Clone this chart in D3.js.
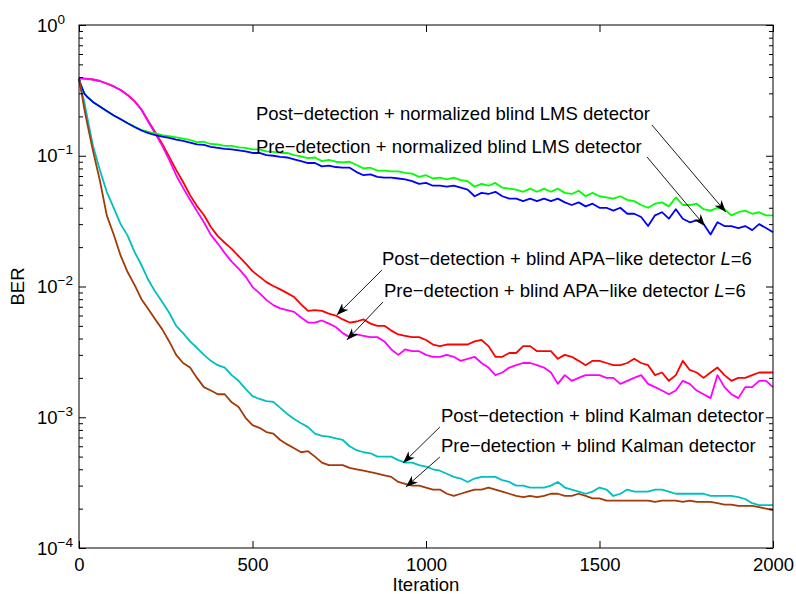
<!DOCTYPE html>
<html>
<head>
<meta charset="utf-8">
<script src="https://cdn.jsdelivr.net/npm/d3@7"></script>
<style>
  body { margin: 0; background: #fff; }
  svg text { font-family: "Liberation Sans", Arial, Helvetica, sans-serif; fill: #000; }
</style>
</head>
<body>
<div id="chart"></div>
<script>
const iterations = [
  0, 5, 15, 25, 40,
  60, 80, 100, 120, 140, 160, 180, 200, 220, 240,
  260, 280, 300, 320, 340, 360, 380, 400, 420, 440,
  460, 480, 500, 520, 540, 560, 580, 600, 620, 640,
  660, 680, 700, 720, 740, 760, 780, 800, 820, 840,
  860, 880, 900, 920, 940, 960, 980, 1000, 1020, 1040,
  1060, 1080, 1100, 1120, 1140, 1160, 1180, 1200, 1220, 1240,
  1260, 1280, 1300, 1320, 1340, 1360, 1380, 1400, 1420, 1440,
  1460, 1480, 1500, 1520, 1540, 1560, 1580, 1600, 1620, 1640,
  1660, 1680, 1700, 1720, 1740, 1760, 1780, 1800, 1820, 1840,
  1860, 1880, 1900, 1920, 1940, 1960, 1980, 2000
];

// BER curves
const postLms = [
  0.39, 0.35, 0.30, 0.28, 0.258,
  0.238, 0.22, 0.204, 0.191, 0.178, 0.167, 0.158, 0.152, 0.148, 0.144,
  0.141, 0.138, 0.135, 0.132, 0.127, 0.128, 0.123, 0.122, 0.119, 0.119,
  0.116, 0.115, 0.112, 0.112, 0.108, 0.107, 0.105, 0.105, 0.101, 0.099,
  0.096, 0.097, 0.091, 0.093, 0.090, 0.089, 0.090, 0.085, 0.080, 0.081,
  0.077, 0.077, 0.076, 0.076, 0.074, 0.073, 0.069, 0.071, 0.067, 0.068,
  0.066, 0.068, 0.065, 0.064, 0.058, 0.061, 0.059, 0.062, 0.057, 0.056,
  0.055, 0.053, 0.056, 0.053, 0.056, 0.053, 0.056, 0.052, 0.051, 0.054,
  0.049, 0.052, 0.049, 0.048, 0.047, 0.049, 0.046, 0.045, 0.042, 0.040,
  0.043, 0.044, 0.041, 0.048, 0.042, 0.042, 0.043, 0.039, 0.038, 0.040,
  0.039, 0.035, 0.037, 0.038, 0.036, 0.037, 0.035, 0.035
];
const preLms = [
  0.39, 0.35, 0.30, 0.28, 0.258,
  0.238, 0.22, 0.203, 0.19, 0.177, 0.166, 0.156, 0.149, 0.144, 0.140,
  0.137, 0.133, 0.130, 0.126, 0.122, 0.121, 0.117, 0.115, 0.113, 0.112,
  0.110, 0.108, 0.105, 0.105, 0.101, 0.100, 0.098, 0.097, 0.094, 0.091,
  0.088, 0.088, 0.083, 0.084, 0.082, 0.081, 0.081, 0.075, 0.071, 0.072,
  0.069, 0.068, 0.068, 0.067, 0.066, 0.064, 0.061, 0.062, 0.059, 0.059,
  0.058, 0.059, 0.057, 0.055, 0.049, 0.052, 0.051, 0.053, 0.049, 0.047,
  0.047, 0.045, 0.047, 0.045, 0.047, 0.045, 0.047, 0.044, 0.042, 0.044,
  0.041, 0.043, 0.040, 0.040, 0.038, 0.040, 0.036, 0.036, 0.034, 0.029,
  0.035, 0.037, 0.033, 0.039, 0.033, 0.031, 0.032, 0.030, 0.025, 0.031,
  0.029, 0.029, 0.028, 0.029, 0.027, 0.030, 0.028, 0.026
];
const postApa = [
  0.39, 0.39, 0.389, 0.387, 0.383,
  0.373, 0.357, 0.339, 0.318, 0.292, 0.262, 0.226, 0.184, 0.151, 0.123,
  0.098, 0.078, 0.063, 0.050, 0.0412, 0.0352, 0.0285, 0.0243, 0.0216, 0.0194,
  0.0171, 0.0150, 0.0131, 0.0119, 0.0108, 0.0101, 0.0095, 0.0089, 0.0083, 0.0073,
  0.0065, 0.0066, 0.0065, 0.0062, 0.0060, 0.0056, 0.0053, 0.0054, 0.0056, 0.0052,
  0.0050, 0.0050, 0.0046, 0.0043, 0.0042, 0.0041, 0.0041, 0.0039, 0.0036, 0.0035,
  0.0036, 0.0036, 0.0036, 0.0036, 0.0038, 0.0039, 0.0035, 0.0029, 0.0029, 0.0031,
  0.0031, 0.0035, 0.0035, 0.0032, 0.0032, 0.0032, 0.0028, 0.0030, 0.0029, 0.0027,
  0.0025, 0.0027, 0.0027, 0.0026, 0.0025, 0.0025, 0.0026, 0.0028, 0.0026, 0.0025,
  0.0021, 0.0022, 0.0019, 0.0021, 0.0027, 0.0023, 0.0022, 0.0020, 0.0022, 0.0024,
  0.0021, 0.0019, 0.0020, 0.0020, 0.0021, 0.0022, 0.0022, 0.0022
];
const preApa = [
  0.39, 0.39, 0.389, 0.387, 0.383,
  0.373, 0.357, 0.339, 0.318, 0.292, 0.262, 0.225, 0.181, 0.147, 0.119,
  0.093, 0.071, 0.0568, 0.046, 0.0377, 0.031, 0.0248, 0.0213, 0.0180, 0.0155,
  0.0137, 0.0119, 0.0099, 0.0089, 0.0079, 0.0072, 0.0068, 0.0066, 0.0064, 0.0058,
  0.0053, 0.0053, 0.0055, 0.0052, 0.0049, 0.0044, 0.0041, 0.0043, 0.0042, 0.0041,
  0.0041, 0.0038, 0.0033, 0.0030, 0.0033, 0.0032, 0.0032, 0.0030, 0.0029, 0.0029,
  0.0030, 0.0029, 0.0027, 0.0028, 0.0029, 0.0026, 0.0024, 0.0021, 0.0022, 0.0024,
  0.0025, 0.0026, 0.0026, 0.0025, 0.0024, 0.0022, 0.0018, 0.0021, 0.0019, 0.0020,
  0.0021, 0.0021, 0.0021, 0.0020, 0.0020, 0.0018, 0.0019, 0.0020, 0.0021, 0.0018,
  0.0017, 0.0016, 0.0015, 0.0016, 0.0019, 0.0018, 0.0016, 0.0015, 0.0014, 0.0021,
  0.0017, 0.0015, 0.0014, 0.0017, 0.0017, 0.0019, 0.0019, 0.0017
];
const postKalman = [
  0.39, 0.33, 0.26, 0.19, 0.12,
  0.078, 0.053, 0.040, 0.030, 0.0245, 0.0184, 0.0146, 0.0112, 0.0091, 0.0076,
  0.0063, 0.0050, 0.0044, 0.0038, 0.0034, 0.0030, 0.0027, 0.0025, 0.0024, 0.0021,
  0.0019, 0.00165, 0.00145, 0.00138, 0.00133, 0.00131, 0.00118, 0.00106, 0.00097, 0.00090,
  0.00084, 0.00075, 0.00072, 0.00071, 0.00069, 0.00067, 0.00060, 0.00056, 0.00054, 0.00053,
  0.00050, 0.00050, 0.00050, 0.00047, 0.00045, 0.00045, 0.00043, 0.00042, 0.00040, 0.00039,
  0.00037, 0.00035, 0.00034, 0.00032, 0.00034, 0.00035, 0.00035, 0.00035, 0.00033, 0.00032,
  0.00030, 0.00030, 0.00029, 0.00029, 0.00029, 0.00030, 0.00032, 0.00029, 0.00028, 0.00027,
  0.00026, 0.00027, 0.00029, 0.00028, 0.00025, 0.00026, 0.00028, 0.00027, 0.00027, 0.00027,
  0.00028, 0.00028, 0.00027, 0.00026, 0.00026, 0.00026, 0.00026, 0.00026, 0.00025, 0.00025,
  0.00025, 0.00025, 0.000245, 0.000237, 0.00022, 0.000213, 0.000213, 0.000213
];
const preKalman = [
  0.39, 0.33, 0.23, 0.17, 0.11,
  0.065, 0.035, 0.025, 0.0172, 0.0129, 0.0103, 0.0080, 0.0067, 0.0056, 0.0047,
  0.0038, 0.0030, 0.0026, 0.0024, 0.0020, 0.0017, 0.0016, 0.0015, 0.0015, 0.0013,
  0.0012, 0.00099, 0.00087, 0.00083, 0.00077, 0.00075, 0.00067, 0.00062, 0.00058, 0.00054,
  0.00055, 0.00050, 0.00045, 0.00043, 0.00043, 0.00043, 0.00041, 0.00040, 0.00039, 0.00038,
  0.00037, 0.00036, 0.00035, 0.00032, 0.00031, 0.00030, 0.00030, 0.00029, 0.00028, 0.00028,
  0.00026, 0.00025, 0.00026, 0.00027, 0.00028, 0.00028, 0.00029, 0.00028, 0.00027, 0.00026,
  0.00025, 0.000245, 0.00025, 0.000245, 0.00025, 0.00026, 0.00026, 0.00025, 0.00025, 0.00026,
  0.00025, 0.00024, 0.00024, 0.00023, 0.00023, 0.00023, 0.00023, 0.00023, 0.00023, 0.00023,
  0.000225, 0.00023, 0.00023, 0.00023, 0.000225, 0.00023, 0.000225, 0.000225, 0.000225, 0.00022,
  0.000215, 0.000215, 0.00021, 0.00021, 0.00021, 0.000205, 0.0002, 0.000195
];

const xTicks = [0, 500, 1000, 1500, 2000];
const yExponents = [0, -1, -2, -3, -4];

// Text annotations with arrows, in data units (iteration, BER)
const notes = [
  {text: 'Post−detection + normalized blind LMS detector', at: [510, 0.1877], from: [1651, 0.172], to: [1864, 0.0371]},
  {text: 'Pre−detection + normalized blind LMS detector', at: [510, 0.105], from: [1637, 0.0978], to: [1804, 0.029]},
  {text: 'Post−detection + blind APA−like detector ', italic: 'L', tail: '=6', at: [873, 0.0146], from: [873, 0.01337], to: [743, 0.00605]},
  {text: 'Pre−detection + blind APA−like detector ', italic: 'L', tail: '=6', at: [879, 0.00831], from: [876, 0.00761], to: [772, 0.0039]},
  {text: 'Post−detection + blind Kalman detector', at: [1043, 0.00092], from: [1040, 0.000842], to: [934, 0.000447]},
  {text: 'Pre−detection + blind Kalman detector', at: [1043, 0.000542], from: [1040, 0.000497], to: [942, 0.000293]}
];

const width = 796;
const height = 594;
const margin = {top: 25, right: 23, bottom: 46, left: 79};
const FONT = 18.5;

const x = d3.scaleLinear().domain([0, 2000]).range([margin.left, width - margin.right]);
const y = d3.scaleLog().domain([1e-4, 1]).range([height - margin.bottom, margin.top]);

const svg = d3.select('#chart')
  .append('svg')
  .attr('width', width)
  .attr('height', height);

svg.append('defs')
  .append('marker')
  .attr('id', 'head')
  .attr('markerUnits', 'userSpaceOnUse')
  .attr('viewBox', '-12 -5 12 10')
  .attr('refX', 0)
  .attr('refY', 0)
  .attr('markerWidth', 12)
  .attr('markerHeight', 10)
  .attr('orient', 'auto')
  .append('path')
  .attr('d', 'M0,0L-12,-4.5L-8.5,0L-12,4.5Z')
  .attr('fill', '#000');

// curves, drawn in this order so the overlaps look like the original
const series = [
  {values: postApa, color: '#ff0000'},
  {values: preApa, color: '#ff00ff'},
  {values: postLms, color: '#00ff00'},
  {values: preLms, color: '#0000ff'},
  {values: postKalman, color: '#00bfbf'},
  {values: preKalman, color: '#a33a08'}
];

const line = d3.line()
  .x((d, i) => x(iterations[i]))
  .y(d => y(d));

svg.append('g')
  .selectAll('path')
  .data(series)
  .enter()
  .append('path')
  .attr('d', d => line(d.values))
  .attr('fill', 'none')
  .attr('stroke', d => d.color)
  .attr('stroke-width', 1.8)
  .attr('stroke-linejoin', 'round');

// minor log ticks (2..9 in each decade)
const minorTicks = [];
[-4, -3, -2, -1].forEach(e => {
  for (let m = 2; m <= 9; m++) minorTicks.push(m * Math.pow(10, e));
});
const majorTicks = yExponents.map(e => Math.pow(10, e));

function styleAxis(g) {
  g.select('.domain').remove();
  g.selectAll('line').attr('stroke', '#000');
}

const plotW = width - margin.left - margin.right;
const plotH = height - margin.top - margin.bottom;

// ticks point inward on all four sides
svg.append('g')
  .attr('transform', `translate(0,${height - margin.bottom})`)
  .call(d3.axisBottom(x).tickValues(xTicks).tickFormat(d3.format('d'))
    .tickSizeInner(-7).tickSizeOuter(0).tickPadding(10))
  .call(styleAxis)
  .call(g => g.selectAll('text').attr('font-size', FONT).attr('font-family', null));

svg.append('g')
  .attr('transform', `translate(0,${margin.top})`)
  .call(d3.axisTop(x).tickValues(xTicks).tickSizeInner(-7).tickSizeOuter(0).tickFormat(''))
  .call(styleAxis);

svg.append('g')
  .attr('transform', `translate(${margin.left},0)`)
  .call(d3.axisLeft(y).tickValues(majorTicks).tickSizeInner(-7).tickSizeOuter(0).tickFormat(''))
  .call(styleAxis);
svg.append('g')
  .attr('transform', `translate(${margin.left},0)`)
  .call(d3.axisLeft(y).tickValues(minorTicks).tickSizeInner(-4).tickSizeOuter(0).tickFormat(''))
  .call(styleAxis);
svg.append('g')
  .attr('transform', `translate(${width - margin.right},0)`)
  .call(d3.axisRight(y).tickValues(majorTicks).tickSizeInner(-7).tickSizeOuter(0).tickFormat(''))
  .call(styleAxis);
svg.append('g')
  .attr('transform', `translate(${width - margin.right},0)`)
  .call(d3.axisRight(y).tickValues(minorTicks).tickSizeInner(-4).tickSizeOuter(0).tickFormat(''))
  .call(styleAxis);

// frame
svg.append('rect')
  .attr('x', margin.left)
  .attr('y', margin.top)
  .attr('width', plotW)
  .attr('height', plotH)
  .attr('fill', 'none')
  .attr('stroke', '#000')
  .attr('stroke-width', 1);

// y tick labels as 10^n
yExponents.forEach(e => {
  const t = svg.append('text')
    .attr('x', 37)
    .attr('y', y(Math.pow(10, e)) + 6.5)
    .attr('font-size', FONT);
  t.append('tspan').text('10');
  t.append('tspan')
    .attr('dy', -8)
    .attr('font-size', 13.5)
    .text(e === 0 ? '0' : '−' + (-e));
});

// axis titles
svg.append('text')
  .attr('x', margin.left + plotW / 2)
  .attr('y', 591)
  .attr('text-anchor', 'middle')
  .attr('font-size', FONT)
  .text('Iteration');

svg.append('text')
  .attr('transform', `translate(24,${margin.top + plotH / 2}) rotate(-90)`)
  .attr('text-anchor', 'middle')
  .attr('font-size', FONT)
  .text('BER');

// annotations
const noteG = svg.append('g');
notes.forEach(n => {
  noteG.append('line')
    .attr('x1', x(n.from[0]))
    .attr('y1', y(n.from[1]))
    .attr('x2', x(n.to[0]))
    .attr('y2', y(n.to[1]))
    .attr('stroke', '#000')
    .attr('stroke-width', 0.9)
    .attr('marker-end', 'url(#head)');

  const t = noteG.append('text')
    .attr('x', x(n.at[0]))
    .attr('y', y(n.at[1]))
    .attr('font-size', FONT);
  t.append('tspan').text(n.text);
  if (n.italic) {
    t.append('tspan').attr('font-style', 'italic').text(n.italic);
    t.append('tspan').text(n.tail);
  }
});
</script>
</body>
</html>
